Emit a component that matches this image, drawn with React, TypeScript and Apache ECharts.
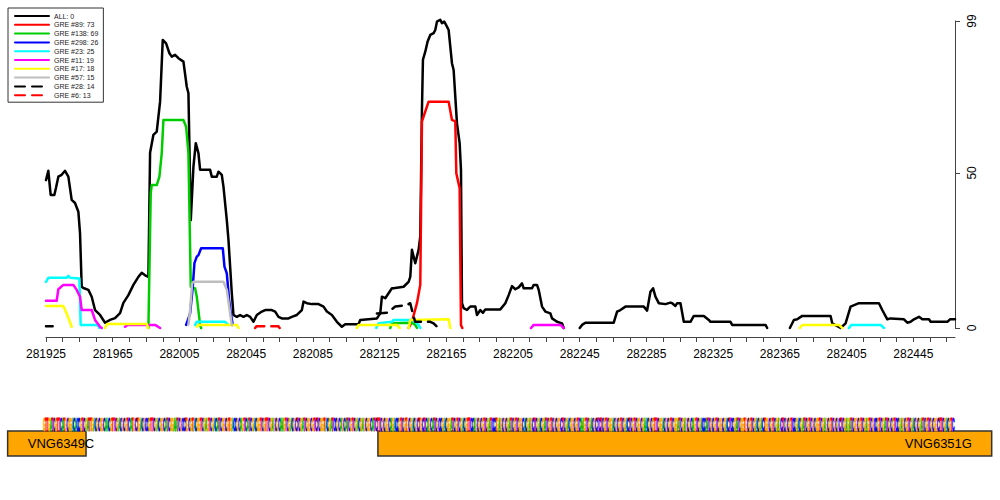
import React, { useEffect, useRef } from "react";
import * as echarts from "echarts";

// ---------- axes ----------
const X_MIN = 281925;
const X_MAX = 282470;
const Y_MIN = 0;
const Y_MAX = 99;
const xTickValues: number[] = [];
for (let v = 281925; v <= 282465; v += 10) xTickValues.push(v);
const xLabelValues = [281925, 281965, 282005, 282045, 282085, 282125, 282165, 282205, 282245, 282285, 282325, 282365, 282405, 282445];
const yTickValues = [0, 50, 99];

// ---------- series (segments of [position, value]) ----------
const seriesNames = ["ALL: 0", "GRE #89: 73", "GRE #138: 69", "GRE #298: 26", "GRE #23: 25", "GRE #11: 19", "GRE #17: 18", "GRE #57: 15", "GRE #28: 14", "GRE #6: 13"];

const allSegs = [
  [[281925,47.7],[281926.4,50.7],[281927.8,42.9],[281930,42.9],[281931,45.2],[281932.4,48.8],[281934.4,49.4],[281936.4,50.7],[281938.4,48.8],[281940.4,41.3],[281942.4,40.3],[281944.4,37.5],[281945.4,30.6],[281946.4,13.3],[281947.4,12.9],[281950.4,12.3],[281952.4,10.1],[281954.4,5.8],[281957.4,4.2],[281960.4,1.7],[281963.4,2.6],[281966.4,3.2],[281969.4,4.8],[281971.4,8.1],[281974.4,10.6],[281977.4,13.9],[281980.4,16.5],[281982.4,17.8],[281985,16.8],[281986.4,16.5],[281987.4,56.5],[281989.4,62.3],[281991.4,63.3],[281993.4,73],[281995,92.9],[281997,91.8],[281999,88.6],[282000.4,87.5],[282002.4,88.1],[282004.4,87],[282007.4,85.9],[282009.4,77.8],[282010.4,75.7],[282011.8,34.8],[282013.4,52],[282014.8,59.6],[282016.4,56.4],[282017.4,51],[282023.4,51],[282024.4,48.8],[282027.4,48.8],[282028.4,50.4],[282030.4,49.4],[282031.4,45.6],[282033.4,34.8],[282034.4,28.4],[282036.4,11.2],[282037.4,4.2],[282039.4,3.6],[282041.4,4.2],[282043.4,3.6],[282045.4,4.2],[282047.4,3.6],[282049.4,2],[282051.4,4.2],[282054.4,5.3],[282056.4,5.8],[282060.4,5.8],[282062.4,5.3],[282064.4,3.6],[282066.4,3.1],[282070.4,3.1],[282072.4,3.6],[282075.4,4.2],[282078.4,5.8],[282079.4,8.5],[282081.4,8],[282084.4,7.7],[282088.4,7.7],[282091.4,6.9],[282093.4,5.3],[282096.4,4.2],[282099.4,2],[282102.4,0.4],[282104.4,1.2],[282112.4,1.2],[282113.4,2.6],[282123.4,3.1],[282125.4,4.7],[282126.4,10.1],[282128.4,9.6],[282132.4,12.8],[282133.4,12.8],[282139.4,13.3],[282142.4,14.9],[282143.4,16.5],[282144.4,25.2],[282146.4,20.9],[282148.4,25.2],[282149.4,29.5],[282150.4,70.3],[282151,86.5],[282152.4,89.1],[282153.8,92.4],[282155.4,94.5],[282157.4,95.1],[282158.4,96.1],[282159.4,98.8],[282161.4,99.4],[282162.4,98.3],[282163.8,98.8],[282165.4,97.2],[282166.4,96.1],[282168.4,85.4],[282169.4,83.2],[282170.4,74.6],[282171.4,66],[282173,59.6],[282173.8,51],[282174.4,8],[282175.4,6.4],[282177.4,5.8],[282178.4,6.4],[282179.4,6.9],[282182.4,6.9],[282183.4,4.2],[282185.4,5.8],[282187,4.9],[282188.4,6],[282197.4,6],[282200.4,8],[282202.4,10.6],[282204.4,13.5],[282206.4,12.5],[282208.4,13.1],[282210.4,14.4],[282211.4,12.8],[282216.4,12.8],[282217.4,13.9],[282219.4,13.9],[282220.4,12.3],[282222.4,6.9],[282224.4,5.3],[282227.4,4.7],[282228.4,3.1],[282231.4,2],[282234.4,1.5],[282235.4,0]],
  [[282245,0],[282246.4,1],[282248.4,1.7],[282265.4,1.7],[282267.4,5.3],[282269.4,5.8],[282272.4,6.9],[282283.4,6.9],[282285.4,5.6],[282287.4,11.7],[282289,12.8],[282290.4,10.1],[282292.4,8],[282296.4,7.7],[282299.4,8.2],[282300.4,8],[282302.4,7.1],[282303.4,8],[282305.4,8],[282307.4,2],[282311.4,2],[282313.4,3.9],[282319.4,3.9],[282322.4,2.6],[282323.4,2],[282335.4,2],[282336.4,1],[282356.4,1],[282357.4,0]],
  [[282371,0],[282373.4,2.6],[282375.4,2.8],[282378.4,3.9],[282395.4,3.9],[282396.4,1.5],[282401.4,0],[282404.4,1.5],[282407.4,6.9],[282412.4,8],[282424.4,8],[282426.4,5.8],[282429.4,2.8],[282431.4,3.1],[282439.4,2.8],[282441.4,1.7],[282443.4,2],[282445.4,2.8],[282448.4,3.6],[282450.4,2.8],[282454.4,2.8],[282455.4,2],[282465.4,2],[282467,2.8],[282470,2.8]],
];
const gre89Segs = [
  [[282142.4,0],[282144.4,2],[282147.4,8],[282149.4,13.9],[282150.4,66.6],[282151.4,68.2],[282154.4,73],[282166.4,73],[282168.4,67.1],[282170.4,66.6],[282171,49.9],[282173,45.1],[282173.8,1],[282174.6,0]],
];
const gre138Segs = [
  [[281986.4,0],[281987.8,43.5],[281988.4,46.1],[281991.4,46.1],[281993,48.8],[281994.4,56.4],[281995.4,67.1],[282007.4,67.1],[282009,64.9],[282010.4,56.4],[282011.8,13.3],[282014.4,12.8],[282015.4,10.1],[282017.4,1],[282018,0]],
  [[282131.4,0],[282132.4,1.5],[282144.4,1.7],[282146.4,1],[282147.4,0]],
];
const gre298Segs = [
  [[282009,1],[282010.4,3.1],[282011.4,4.7],[282013,13.3],[282014,20.9],[282015.4,23],[282016.4,23.5],[282018,25.7],[282031,25.7],[282032,19.8],[282033.4,17.6],[282034.8,9],[282035.8,4.7],[282037,1]],
];
const gre23Segs = [
  [[281925,14.9],[281926.4,16.2],[281937.4,16.2],[281938.4,16.8],[281939.4,16.2],[281945,16],[281945.8,1],[281956,1],[281957,0]],
  [[282014.4,1],[282015.4,2],[282032.4,2],[282034.4,1]],
  [[282123,0],[282124.4,1.5],[282132.4,2],[282133.4,2.6],[282144.4,2.6],[282146.4,2],[282148.4,1],[282149.4,0]],
  [[282406.4,0],[282407.8,1],[282425.4,1],[282427.4,0]],
];
const gre11Segs = [
  [[281925,8.8],[281931.4,8.8],[281932.4,12.5],[281935.4,13.9],[281941.4,13.9],[281943.4,12.3],[281945.4,10.1],[281946.4,5.8],[281952.4,5.8],[281954.4,2.6],[281957.4,0.4],[281958.4,0]],
  [[281972.4,0.4],[281973.8,1],[281990.4,1],[281993.4,0]],
  [[282215.8,0],[282217.4,1],[282233.4,1],[282235.4,0]],
];
const gre17Segs = [
  [[281925,7.1],[281935.4,7.1],[281937.4,4.7],[281940.4,0.4]],
  [[281960.4,0],[281961.6,1.3],[281985.4,1.3],[281986.2,0]],
  [[282015.4,0.4],[282016.4,1],[282039.4,1],[282040.4,0]],
  [[282111.4,0],[282112.4,1],[282135.4,1],[282137,0]],
  [[282142.4,0],[282143.4,2.6],[282166.4,2.8],[282167.4,0]],
  [[282377,0],[282378.4,1],[282400.4,1],[282402.4,0]],
];
const gre57Segs = [
  [[282010.4,1],[282011.4,5.8],[282012.6,14.4],[282013.4,14.9],[282031.4,14.9],[282033.4,12.3],[282035.4,4.7],[282036.4,1]],
];
const gre28Segs = [
  [[281925,0.6],[281929,0.6]],
  [[282123.4,4.7],[282129.4,4.9],[282134.4,6.9],[282141.4,7.4],[282143.4,8],[282144.4,5.8],[282145.4,3.6],[282146.4,2],[282155.4,2],[282157.4,1.5],[282159.4,0.4]],
];
const gre6Segs = [
  [[282050.4,0],[282051.3,0.6],[282064.2,0.6],[282065.1,0]],
];

const seriesSegs = [allSegs, gre89Segs, gre138Segs, gre298Segs, gre23Segs, gre11Segs, gre17Segs, gre57Segs, gre28Segs, gre6Segs];
const seriesColors = ["#000000", "#FF0000", "#00CD00", "#0000FF", "#00FFFF", "#FF00FF", "#FFFF00", "#BEBEBE", "#000000", "#FF0000"];
const seriesDashed = [false, false, false, false, false, false, false, false, true, true];

// ---------- sequence track ----------
const SEQ_START = 281924;
const SEQ =
  "GTTGATCGTTCATGCGGACACCGTCGATTGACGCGGCAACGTTCGACGCG" +
  "TCATGCTGACGCCGTTCGACGGCATCGGAATCGCCTGCGTACGGTCGAGT" +
  "CGACATCGGCGTGACCGCAGTCATCGACGGTCGTTCGAGCGCAAGTCGAC" +
  "GCTCGATCGGCGTCTCGGTACGATCCGCAGCATCGTCGACGAGCGGCATC" +
  "TTCGCGGCAGACCGTCGTGCGACGCTGCTCAGCATCGCCGACGGATCGTC" +
  "GACGTTCCAGCGCGTCGATCCTGAGCGCGATCGTCGGCACGAGCTCGACG" +
  "ATCGTCGCGGCTCGACGGCGTCAAGTCGACGCTCTCGTCGGACGCGTCGA" +
  "CTCGTCGGCGAACGCGTTCGGACGCGTCGGATCGAGCGCAGTCGACCATC" +
  "GCGTCGGCGACTCCGATCGGTGCGTCGACGACTGGCGTCGAGCTCGCGTC" +
  "CGACGATCGTCGCGGTCGAGCGTCGCGCTCGAGATCGGCGTCGAGTCGCC" +
  "GTCGATCGCGTCCGAGCGTCGACGCGATCGTCGCGGCTTCGACGTC";
const baseColors: Record<string, string> = { A: "#00C000", C: "#0000FF", G: "#FFA500", T: "#FF0000" };

// ---------- genes ----------
const geneNames = ["VNG6349C", "VNG6351G"];
const geneStarts = [281902, 282124];
const geneEnds = [281949, 282492];
const geneLabelPos = [281934, 282460];

function buildData(segs: number[][][]) {
  const out: any[] = [];
  segs.forEach((seg, i) => {
    if (i > 0) out.push([(segs[i - 1][segs[i - 1].length - 1][0] + seg[0][0]) / 2, "-"]);
    seg.forEach((p) => out.push(p));
  });
  return out;
}

export default function App() {
  const ref = useRef<HTMLDivElement>(null);
  useEffect(() => {
    if (!ref.current) return;
    const chart = echarts.init(ref.current, undefined, { renderer: "svg" });
    const lineSeries = seriesNames.map((name, i) => ({
      name,
      type: "line",
      data: buildData(seriesSegs[i] as any),
      symbol: "none",
      clip: false,
      connectNulls: false,
      color: seriesColors[i],
      lineStyle: {
        color: seriesColors[i],
        width: 2.5,
        type: seriesDashed[i] ? [10, 7] : "solid",
        cap: "round",
        join: "round",
      },
      z: 2 + i * 0.01,
    }));

    const seqSeries = {
      type: "custom",
      silent: true,
      clip: false,
      data: SEQ.split("").map((_, i) => [SEQ_START + i, 0]),
      encode: { x: 0, y: 1 },
      renderItem: (params: any, api: any) => {
        const b = SEQ[params.dataIndex];
        const x = api.coord([api.value(0), 0])[0];
        return {
          type: "text",
          x,
          y: 425,
          scaleX: 0.2,
          style: {
            text: b,
            fill: baseColors[b],
            stroke: baseColors[b],
            lineWidth: 1.2,
            fontSize: 18,
            fontWeight: "bold",
            fontFamily: "Liberation Sans",
            align: "center",
            verticalAlign: "middle",
          },
        };
      },
      z: 3,
    };

    const geneSeries = {
      type: "custom",
      silent: true,
      clip: false,
      data: geneNames.map((n, i) => [geneStarts[i], geneEnds[i], geneLabelPos[i]]),
      encode: { x: [0, 1], y: -1 },
      renderItem: (params: any, api: any) => {
        const x1 = api.coord([api.value(0), 0])[0];
        const x2 = api.coord([api.value(1), 0])[0];
        const xl = api.coord([api.value(2), 0])[0];
        return {
          type: "group",
          children: [
            {
              type: "rect",
              shape: { x: x1, y: 431, width: x2 - x1, height: 25 },
              style: { fill: "#FFA500", stroke: "#333333", lineWidth: 1.5 },
            },
            {
              type: "text",
              x: xl,
              y: 443.5,
              style: {
                text: geneNames[params.dataIndex],
                fill: "#000",
                fontSize: 13,
                fontFamily: "Liberation Sans",
                align: "center",
                verticalAlign: "middle",
              },
            },
          ],
        };
      },
      z: 1,
    };

    chart.setOption({
      animation: false,
      backgroundColor: "#ffffff",
      grid: { left: 46, right: 45, top: 21, bottom: 172, containLabel: false },
      legend: {
        data: seriesNames,
        orient: "vertical",
        left: 8,
        top: 8,
        padding: [4, 5, 3, 6],
        itemWidth: 34,
        itemHeight: 8,
        itemGap: 0.8,
        borderColor: "#333",
        borderWidth: 1,
        selectedMode: false,
        itemStyle: { opacity: 0 },
        textStyle: { fontSize: 7, color: "#222", fontFamily: "Liberation Sans", lineHeight: 8 },
      },
      xAxis: {
        type: "value",
        min: X_MIN,
        max: X_MAX,
        position: "bottom",
        offset: 9,
        axisLine: { show: true, onZero: false, lineStyle: { color: "#444", width: 1 } },
        axisTick: { show: true, customValues: xTickValues, length: 5, lineStyle: { color: "#444" } },
        axisLabel: {
          customValues: xLabelValues,
          margin: 11,
          fontSize: 12,
          color: "#000",
          fontFamily: "Liberation Sans",
          formatter: (v: number) => String(v),
        },
        splitLine: { show: false },
      },
      yAxis: {
        type: "value",
        min: Y_MIN,
        max: Y_MAX,
        position: "right",
        axisLine: { show: true, lineStyle: { color: "#444", width: 1 } },
        axisTick: { show: true, customValues: yTickValues, length: 5, lineStyle: { color: "#444" } },
        axisLabel: {
          customValues: yTickValues,
          rotate: 90,
          margin: 11,
          fontSize: 12,
          color: "#000",
          fontFamily: "Liberation Sans",
        },
        splitLine: { show: false },
      },
      series: [...lineSeries, geneSeries, seqSeries],
    } as any);
    return () => chart.dispose();
  }, []);
  return (
    <div
      ref={ref}
      style={{ position: "absolute", left: 0, top: 0, width: 1000, height: 500, background: "#fff" }}
    />
  );
}
